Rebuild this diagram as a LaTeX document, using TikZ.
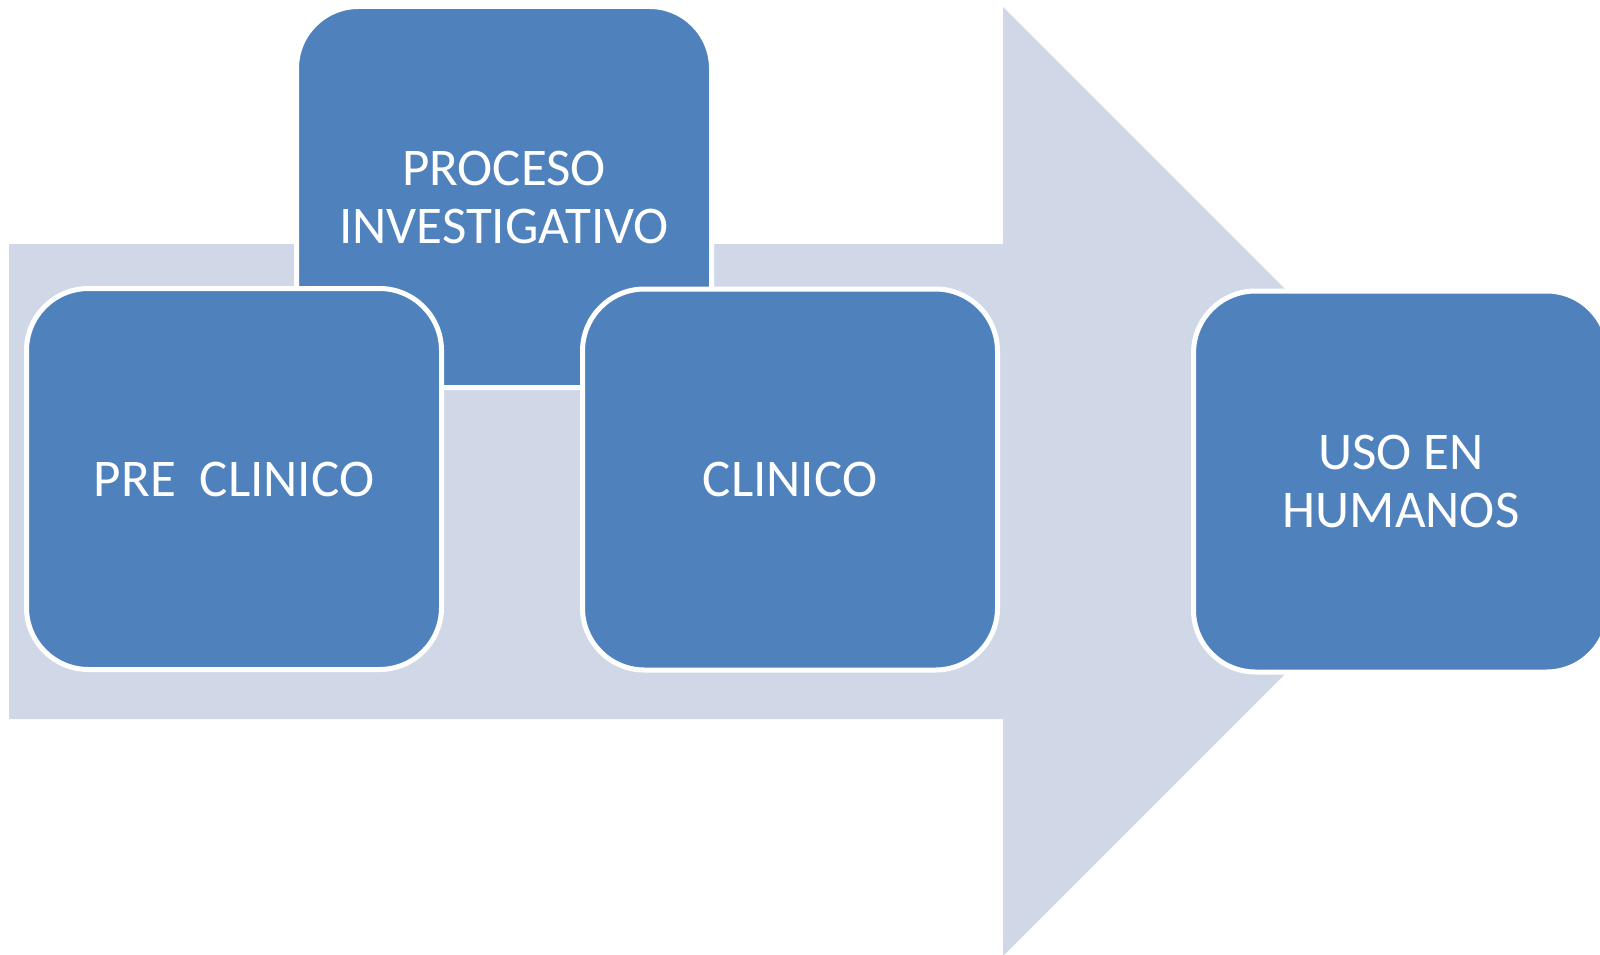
\documentclass[tikz,border=0pt]{standalone}
\usepackage{fontspec}
\setmainfont{Carlito}
\definecolor{arrowfill}{HTML}{D0D8E8}
\definecolor{boxfill}{HTML}{4F81BD}
\begin{document}
\begin{tikzpicture}[x=1pt,y=-1pt,
  stepbox/.style={draw=white,line width=5pt,fill=boxfill,rounded corners=62pt,
    minimum width=415pt,minimum height=381pt,inner sep=0pt,
    text=white,align=center,font=\fontsize{53}{58}\selectfont}]
\useasboundingbox (0,0) rectangle (1600,955);
\fill[arrowfill] (9,244) -- (1003,244) -- (1003,7) -- (1477.5,481.5) -- (1003,956) -- (1003,719) -- (9,719) -- cycle;
\node[stepbox] (proc) at (504,197) {PROCESO\\INVESTIGATIVO};
\node[stepbox] (pre) at (234,479) {PRE\ \ CLINICO};
\node[stepbox] (clin) at (790,479.5) {CLINICO};
\node[stepbox] (uso) at (1401,481.5) {USO EN\\HUMANOS};
\end{tikzpicture}
\end{document}
